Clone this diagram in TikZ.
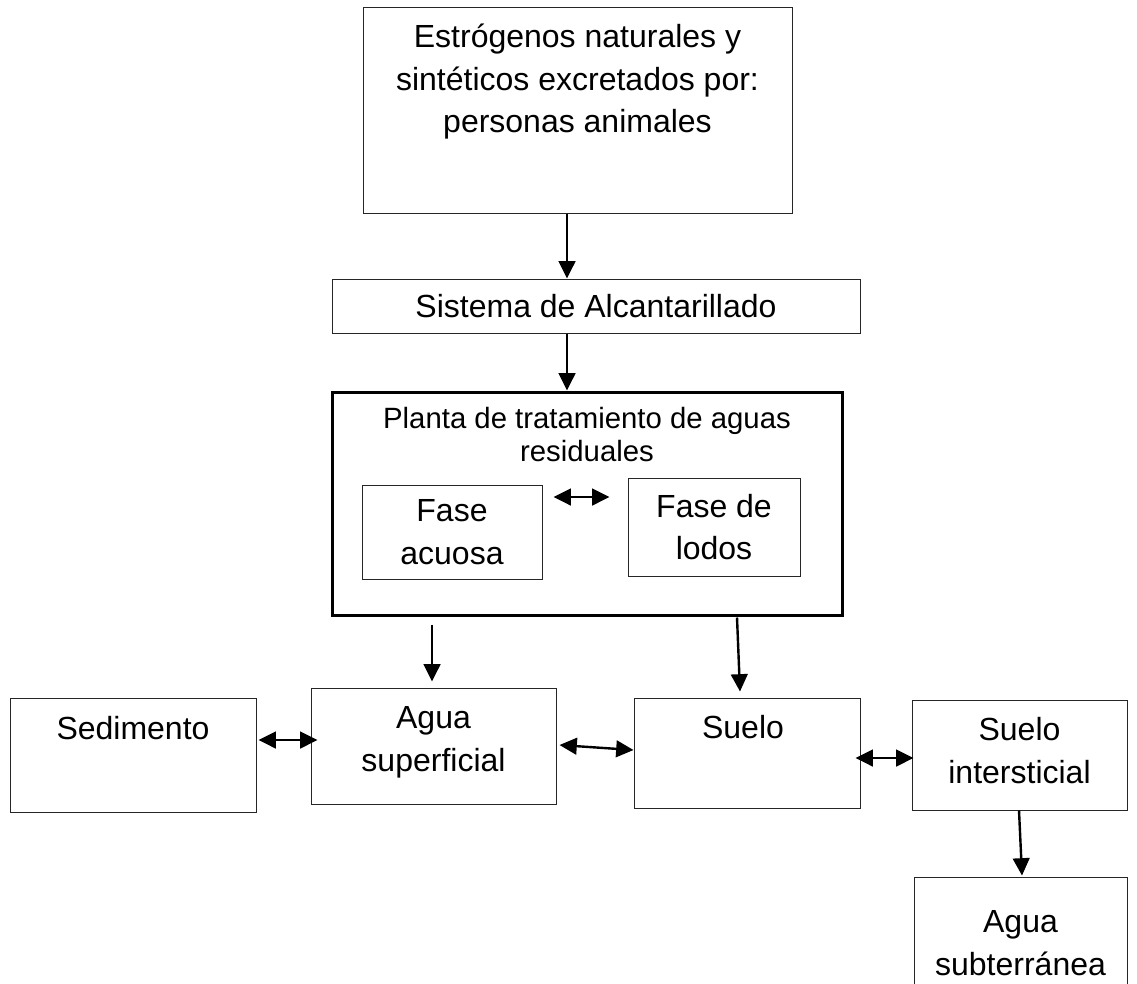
\documentclass[tikz,border=0pt]{standalone}
\usepackage{fontspec}
\setmainfont{Liberation Sans}
\usetikzlibrary{arrows.meta}

\begin{document}
\begin{tikzpicture}[x=0.75pt,y=0.75pt,yscale=-1,xscale=1,
  box/.style={draw=black!85, line width=0.75pt, inner sep=0pt, align=center, font=\fontsize{24}{32}\selectfont},
  lbl/.style={inner sep=0pt, anchor=north, align=center, font=\fontsize{24}{32}\selectfont},
  arr/.style={line width=1.8pt, -{Triangle[length=13pt,width=12.5pt]}},
  dbl/.style={line width=1.8pt, {Triangle[length=13pt,width=12.5pt]}-{Triangle[length=13pt,width=12.5pt]}}]
\clip (0,0) rectangle (1137,983);

%Shape: Rectangle [source]
\node[box, minimum width=321.75pt, minimum height=154.5pt] (src) at (577.5,110) {};
%Shape: Rectangle [sewer]
\node[box, minimum width=396pt, minimum height=40.5pt] (sewer) at (596,306) {Sistema de Alcantarillado};
%Shape: Rectangle [plant]
\node[box, line width=2.25pt, draw=black, minimum width=382.5pt, minimum height=167.25pt] (plant) at (587,503.5) {};
%Shape: Rectangle [aqueous]
\node[box, minimum width=135pt, minimum height=70.5pt] (acuosa) at (452,532) {Fase\\acuosa};
%Shape: Rectangle [sludge]
\node[box, minimum width=129pt, minimum height=73.5pt] (lodos) at (714,527) {Fase de\\lodos};
%Shape: Rectangle [sediment]
\node[box, minimum width=184.5pt, minimum height=85.5pt] (sed) at (133,755) {};
%Shape: Rectangle [surface water]
\node[box, minimum width=183.75pt, minimum height=87pt] (sup) at (433.5,746) {};
%Shape: Rectangle [soil]
\node[box, minimum width=169.5pt, minimum height=82.5pt] (suelo) at (747,753) {};
%Shape: Rectangle [pore soil]
\node[box, minimum width=161.25pt, minimum height=82.5pt] (inter) at (1019.5,755) {};
%Shape: Rectangle [groundwater]
\node[box, minimum width=159.75pt, minimum height=90pt] (sub) at (1020.5,937) {};

% Text Node
\node[lbl] (srctxt) at ([shift={(0,17)}]src.north) {Estrógenos naturales y\\sintéticos excretados por:\\personas animales};
% Text Node
\node[lbl, font=\fontsize{22}{25}\selectfont] (planttxt) at ([shift={(0,16)}]plant.north) {Planta de tratamiento de aguas\\residuales};
% Text Node
\node[lbl] (sedtxt) at ([shift={(0,19)}]sed.north) {Sedimento};
% Text Node
\node[lbl] (suptxt) at ([shift={(0,19)}]sup.north) {Agua\\superficial};
% Text Node
\node[lbl] (suelotxt) at ([shift={(-4,18)}]suelo.north) {Suelo};
% Text Node
\node[lbl] (intertxt) at ([shift={(0,18)}]inter.north) {Suelo\\intersticial};
% Text Node
\node[lbl] (subtxt) at ([shift={(0,34)}]sub.north) {Agua\\subterránea};

%Straight Lines
\draw[arr] ([shift={(-10.5,0)}]src.south) -- ([shift={(-29,0)}]sewer.north);
\draw[arr] ([shift={(-29,0)}]sewer.south) -- ([shift={(-20,0)}]plant.north);
\draw[dbl] ([shift={(11,-35)}]acuosa.east) -- ([shift={(-18,-30)}]lodos.west);
\draw[arr] ([shift={(-155,8)}]plant.south) -- ([shift={(-1.5,-6)}]sup.north);
\draw[arr] ([shift={(150,1)}]plant.south) -- ([shift={(-7,-6)}]suelo.north);
\draw[dbl] ([shift={(2,-15)}]sed.east) -- ([shift={(7,-6)}]sup.west);
\draw[dbl] ([shift={(3,-1)}]sup.east) -- ([shift={(0,-3)}]suelo.west);
\draw[dbl] ([shift={(-5,5)}]suelo.east) -- ([shift={(2,3)}]inter.west);
\draw[arr] ([shift={(-0.5,0)}]inter.south) -- ([shift={(1.5,-1)}]sub.north);

\end{tikzpicture}
\end{document}
